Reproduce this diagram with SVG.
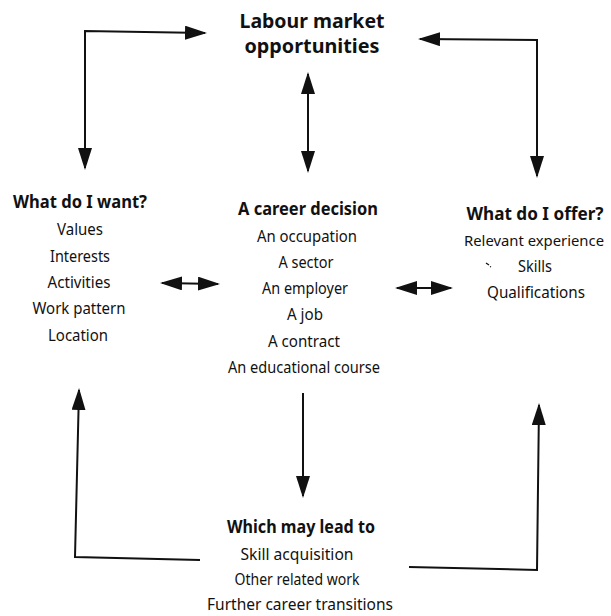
<svg xmlns="http://www.w3.org/2000/svg" width="611" height="616" viewBox="0 0 611 616">
<style>
text{font-family:"Noto Sans","Open Sans","Liberation Sans",sans-serif;fill:#111;text-anchor:middle}
.t{font-size:19px;font-weight:bold}
.h{font-size:17.5px;font-weight:bold}
.i{font-size:16.5px}
.c{fill:none;stroke:#111;stroke-width:2}
</style>
<defs>
<marker id="ah" markerUnits="userSpaceOnUse" markerWidth="24" markerHeight="16" refX="20" refY="7" orient="auto-start-reverse" viewBox="0 0 24 16">
<path d="M0,0 L22,7 L0,14 z" fill="#111"/>
</marker>
</defs>
<rect width="611" height="616" fill="#fff"/>
<g id="connectors">
<polyline class="c" points="205,33 85,31 85,168" marker-start="url(#ah)" marker-end="url(#ah)"/>
<polyline class="c" points="420,39 537,40 537,176" marker-start="url(#ah)" marker-end="url(#ah)"/>
<line class="c" x1="308" y1="74" x2="308" y2="171" marker-start="url(#ah)" marker-end="url(#ah)"/>
<line class="c" x1="162" y1="283" x2="218" y2="284" marker-start="url(#ah)" marker-end="url(#ah)"/>
<line class="c" x1="397" y1="288" x2="451" y2="288" marker-start="url(#ah)" marker-end="url(#ah)"/>
<line class="c" x1="303" y1="393" x2="303" y2="496" marker-end="url(#ah)"/>
<polyline class="c" points="200,560 75,557 79,390" marker-end="url(#ah)"/>
<polyline class="c" points="409,567 537,570 539,405" marker-end="url(#ah)"/>
</g>
<g id="labour-market">
<text class="t" x="312" y="28" textLength="145" lengthAdjust="spacingAndGlyphs">Labour market</text>
<text class="t" x="312" y="53" textLength="135" lengthAdjust="spacingAndGlyphs">opportunities</text>
</g>
<g id="what-do-i-want">
<text class="h" x="80" y="208" textLength="134" lengthAdjust="spacingAndGlyphs">What do I want?</text>
<text class="i" x="80" y="235" textLength="46" lengthAdjust="spacingAndGlyphs">Values</text>
<text class="i" x="80" y="261.5" textLength="60" lengthAdjust="spacingAndGlyphs">Interests</text>
<text class="i" x="79" y="288" textLength="63" lengthAdjust="spacingAndGlyphs">Activities</text>
<text class="i" x="79" y="314" textLength="93" lengthAdjust="spacingAndGlyphs">Work pattern</text>
<text class="i" x="78" y="340.5" textLength="60" lengthAdjust="spacingAndGlyphs">Location</text>
</g>
<g id="career-decision">
<text class="h" x="308" y="214.5" textLength="140" lengthAdjust="spacingAndGlyphs">A career decision</text>
<text class="i" x="307" y="241.5" textLength="100" lengthAdjust="spacingAndGlyphs">An occupation</text>
<text class="i" x="306" y="267.5" textLength="55" lengthAdjust="spacingAndGlyphs">A sector</text>
<text class="i" x="305" y="293.5" textLength="86" lengthAdjust="spacingAndGlyphs">An employer</text>
<text class="i" x="305" y="320" textLength="36" lengthAdjust="spacingAndGlyphs">A job</text>
<text class="i" x="304" y="346.5" textLength="72" lengthAdjust="spacingAndGlyphs">A contract</text>
<text class="i" x="304" y="373" textLength="152" lengthAdjust="spacingAndGlyphs">An educational course</text>
</g>
<g id="what-do-i-offer">
<text class="h" x="535" y="220" textLength="137" lengthAdjust="spacingAndGlyphs">What do I offer?</text>
<text class="i" x="534" y="245.5" style="font-size:15px" textLength="140" lengthAdjust="spacingAndGlyphs">Relevant experience</text>
<path d="M486,263 L489,265 M490,266.5 L491,267" stroke="#111" stroke-width="1.3" fill="none"/>
<text class="i" x="535" y="271.5" textLength="34" lengthAdjust="spacingAndGlyphs">Skills</text>
<text class="i" x="536" y="298" textLength="98" lengthAdjust="spacingAndGlyphs">Qualifications</text>
</g>
<g id="which-may-lead-to">
<text class="h" x="301" y="533" textLength="148" lengthAdjust="spacingAndGlyphs">Which may lead to</text>
<text class="i" x="297" y="560" textLength="113" lengthAdjust="spacingAndGlyphs">Skill acquisition</text>
<text class="i" x="297" y="585" textLength="125" lengthAdjust="spacingAndGlyphs">Other related work</text>
<text class="i" x="300" y="610" textLength="186" lengthAdjust="spacingAndGlyphs">Further career transitions</text>
</g>
</svg>
